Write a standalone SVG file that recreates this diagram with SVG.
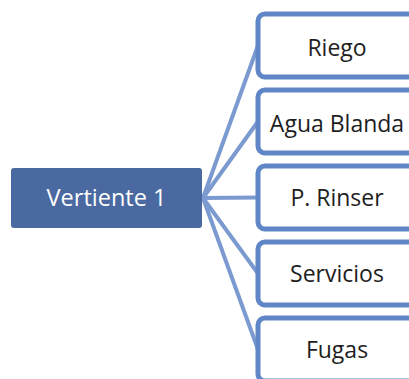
<svg xmlns="http://www.w3.org/2000/svg" width="409" height="379" viewBox="0 0 409 379">
  <style>
    .root rect { fill: #4A69A0; }
    .root text { fill: #FFFFFF; font-size: 23.5px; }
    .leaf rect { fill: #FFFFFF; stroke: #5F86C6; stroke-width: 5; }
    .leaf text { fill: #1E1E1E; font-size: 23px; }
    text { font-family: "Open Sans", "Noto Sans", sans-serif; text-anchor: middle; }
    #connectors line { stroke: #7B9AD0; stroke-width: 4; }
  </style>

  <!-- fan of connectors from the root node to each leaf -->
  <g id="connectors">
    <line x1="203" y1="198" x2="258" y2="45.5"/>
    <line x1="203" y1="198" x2="258" y2="121.5"/>
    <line x1="203" y1="198" x2="258" y2="197.5"/>
    <line x1="203" y1="198" x2="258" y2="273.5"/>
    <line x1="203" y1="198" x2="258" y2="349.5"/>
  </g>

  <g id="node-vertiente" class="root">
    <rect x="11" y="168" width="191" height="60" rx="3"/>
    <text x="106.5" y="206">Vertiente 1</text>
  </g>

  <g id="node-riego" class="leaf">
    <rect x="258" y="14" width="158" height="63" rx="7"/>
    <text x="337" y="56">Riego</text>
  </g>
  <g id="node-agua-blanda" class="leaf">
    <rect x="258" y="90" width="158" height="63" rx="7"/>
    <text x="337" y="132">Agua Blanda</text>
  </g>
  <g id="node-p-rinser" class="leaf">
    <rect x="258" y="166" width="158" height="63" rx="7"/>
    <text x="337" y="206">P. Rinser</text>
  </g>
  <g id="node-servicios" class="leaf">
    <rect x="258" y="242" width="158" height="63" rx="7"/>
    <text x="337" y="282">Servicios</text>
  </g>
  <g id="node-fugas" class="leaf">
    <rect x="258" y="318" width="158" height="63" rx="7"/>
    <text x="337" y="358">Fugas</text>
  </g>
</svg>
